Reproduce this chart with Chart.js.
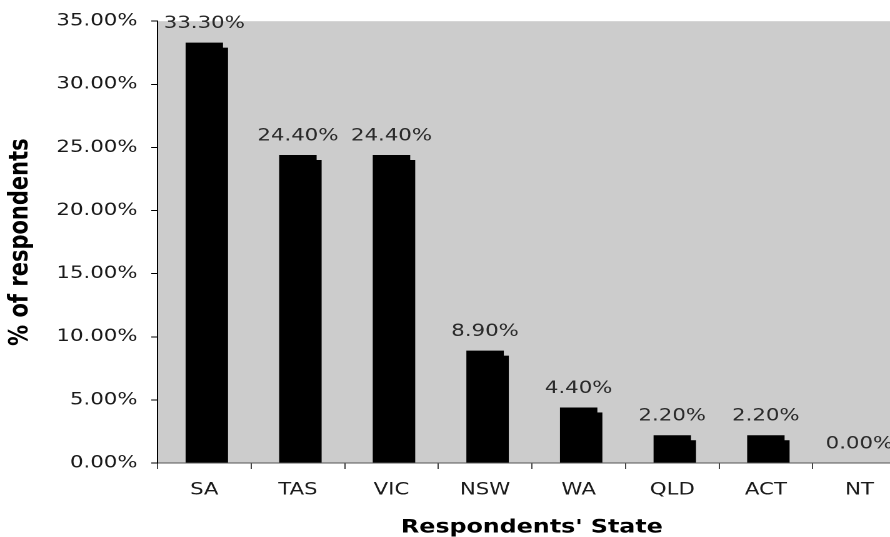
<!DOCTYPE html>
<html>
<head>
<meta charset="utf-8">
<script src="https://cdn.jsdelivr.net/npm/chart.js@4"></script>
<style>
  body { margin: 0; background: #fff; overflow: hidden; }
  /* the original picture is stretched sideways, so the chart is drawn narrower and widened */
  #wrap { width: 725px; height: 537px; transform: scaleX(1.25); transform-origin: 0 0; }
</style>
</head>
<body>
<div id="wrap"><canvas id="chart" width="725" height="537"></canvas></div>
<script>
// Respondents by state
const states = ['SA', 'TAS', 'VIC', 'NSW', 'WA', 'QLD', 'ACT', 'NT'];
const percents = [33.3, 24.4, 24.4, 8.9, 4.4, 2.2, 2.2, 0];
const yTicks = [0, 5, 10, 15, 20, 25, 30, 35];

const fontFamily = "'DejaVu Sans', Verdana, sans-serif";

// grey plot area behind the bars
const plotBackground = {
    id: 'plotBackground',
    beforeDraw(chart) {
        const {ctx, chartArea} = chart;
        ctx.save();
        ctx.fillStyle = '#cccccc';
        ctx.fillRect(chartArea.left, chartArea.top, chartArea.right - chartArea.left, chartArea.bottom - chartArea.top);
        ctx.restore();
    }
};

// the dark offset shadow each bar has
const barShadow = {
    id: 'barShadow',
    beforeDatasetsDraw(chart) {
        const ctx = chart.ctx;
        ctx.save();
        ctx.fillStyle = '#000';
        chart.getDatasetMeta(0).data.forEach(bar => {
            const h = bar.base - bar.y - 5;
            if (h > 0) {
                ctx.fillRect(bar.x - bar.width / 2 + 4, bar.y + 5, bar.width, h);
            }
        });
        ctx.restore();
    }
};

// value labels above the bars
const valueLabels = {
    id: 'valueLabels',
    afterDatasetsDraw(chart) {
        const ctx = chart.ctx;
        ctx.save();
        ctx.font = '17px ' + fontFamily;
        ctx.fillStyle = '#2a2a2a';
        ctx.textAlign = 'center';
        ctx.textBaseline = 'middle';
        chart.getDatasetMeta(0).data.forEach((bar, i) => {
            ctx.fillText(percents[i].toFixed(2) + '%', bar.x, bar.y - 19);
        });
        ctx.restore();
    }
};

new Chart(document.getElementById('chart').getContext('2d'), {
    type: 'bar',
    data: {
        labels: states,
        datasets: [{
            data: percents,
            backgroundColor: '#000000',
            borderWidth: 0,
            barPercentage: 0.4,
            categoryPercentage: 1
        }]
    },
    options: {
        responsive: false,
        devicePixelRatio: 2,
        animation: false,
        layout: { padding: { top: 20, right: 0, bottom: 0, left: 0 } },
        plugins: {
            legend: { display: false },
            tooltip: { enabled: false }
        },
        scales: {
            x: {
                afterFit(scale) { scale.height = 74; },
                grid: { drawOnChartArea: false, color: '#444', tickLength: 6 },
                border: { color: '#555' },
                ticks: { color: '#1a1a1a', padding: 11, font: { family: fontFamily, size: 17 } },
                title: {
                    display: true,
                    text: "Respondents' State",
                    color: '#000',
                    font: { family: fontFamily, size: 19, weight: 'bold', lineHeight: 1 },
                    padding: { top: 0, bottom: 0 }
                }
            },
            y: {
                min: 0,
                max: 35,
                afterFit(scale) { scale.width = 126; },
                afterBuildTicks(scale) { scale.ticks = yTicks.map(v => ({ value: v })); },
                grid: { drawOnChartArea: false, color: '#000', tickLength: 5 },
                border: { color: '#000' },
                ticks: {
                    color: '#1a1a1a',
                    padding: 11,
                    font: { family: fontFamily, size: 17 },
                    callback: v => v.toFixed(2) + '%'
                },
                title: {
                    display: true,
                    text: '% of respondents',
                    color: '#000',
                    font: { family: fontFamily, size: 21, weight: 'bold', lineHeight: 1 },
                    padding: { top: 6, bottom: 0 }
                }
            }
        }
    },
    plugins: [plotBackground, barShadow, valueLabels]
});
</script>
</body>
</html>
